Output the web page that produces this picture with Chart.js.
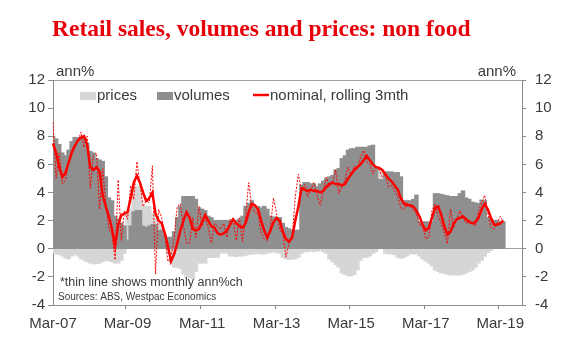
<!DOCTYPE html>
<html>
<head>
<meta charset="utf-8">
<script src="https://cdn.jsdelivr.net/npm/chart.js@4.4.0/dist/chart.umd.min.js"></script>
<style>
  html, body { margin: 0; padding: 0; background: #ffffff; }
  #wrap { width: 580px; height: 352px; position: relative; }
</style>
</head>
<body>
<div id="wrap"><canvas id="c" width="580" height="352"></canvas></div>
<script>
// ---- Data (monthly, Mar-07 onward) ----
const startYear = 2007, startMonth = 2, axisMonths = 152;
const monthNames = ['Jan','Feb','Mar','Apr','May','Jun','Jul','Aug','Sep','Oct','Nov','Dec'];
const categories = [];
for (let i = 0; i < axisMonths; i++) {
  const mi = (startMonth + i) % 12, yr = startYear + Math.floor((startMonth + i) / 12);
  categories.push(monthNames[mi] + '-' + String(yr % 100).padStart(2, '0'));
}
const tickLabels = ['Mar-07','Mar-09','Mar-11','Mar-13','Mar-15','Mar-17','Mar-19'];
const yTicks = [-4,-2,0,2,4,6,8,10,12];

const volumes = [
  8.0,7.8,7.4,6.8,6.6,7.0,7.6,7.9,7.9,7.9,7.9,7.5,
  6.9,6.8,6.4,6.3,6.2,5.1,3.6,3.4,2.3,2.1,1.8,1.6,
  0.6,1.6,2.6,2.7,2.7,1.6,1.5,1.6,1.7,1.7,1.3,1.3,
  0.9,0.8,0.8,1.2,2.2,3.0,3.7,3.7,3.7,3.7,3.5,2.9,
  2.8,2.7,2.3,2.2,2.0,2.0,2.0,2.0,2.0,2.0,2.0,2.0,
  2.1,2.3,3.0,3.2,3.4,3.0,3.0,2.9,3.0,2.8,2.3,2.25,
  2.2,2.2,1.8,1.5,1.4,1.3,1.3,1.3,4.5,4.7,4.7,4.6,
  4.6,4.4,4.6,4.8,5.0,5.1,5.2,5.6,5.7,6.4,6.6,7.0,
  7.1,7.1,7.2,7.2,7.2,7.2,7.3,7.35,5.8,4.9,4.9,5.45,
  5.45,5.45,5.4,5.4,5.1,3.4,3.4,3.4,3.5,3.8,1.9,1.9,
  1.9,1.9,1.9,3.9,3.9,3.85,3.8,3.75,3.7,3.7,3.7,3.9,
  4.1,3.6,3.5,3.3,3.25,3.2,3.45,3.4,2.2,2.1,2.0,2.0,
  1.9,1.9
];
const prices = [
  -0.3,-0.35,-0.4,-0.5,-0.65,-0.7,-0.5,-0.4,-0.5,-0.7,-0.8,-0.9,
  -1.0,-1.05,-1.05,-1.0,-0.9,-0.8,-0.85,-0.9,-1.0,-1.0,-0.8,-0.3,
  1.9,1.2,1.6,1.7,1.7,1.4,1.5,1.4,0.8,0.4,0.5,0.3,
  0.1,-0.3,-1.0,-1.3,-1.3,-1.4,-1.8,-2.0,-2.0,-2.1,-1.6,-1.0,
  -1.0,-1.0,-0.6,-0.6,-0.6,-0.6,-0.3,-0.25,-0.3,-0.5,-0.5,-0.55,
  -0.5,-0.5,-0.45,-0.4,-0.35,-0.35,-0.3,-0.35,-0.35,-0.3,-0.25,-0.2,
  -0.25,-0.3,-0.6,-0.7,-0.75,-0.7,-0.7,-0.6,-0.3,-0.2,-0.2,-0.15,
  -0.2,-0.15,-0.1,-0.2,-0.3,-0.7,-0.9,-1.1,-1.3,-1.7,-1.8,-1.9,
  -1.9,-1.8,-1.5,-0.8,-0.6,-0.6,-0.5,-0.3,-0.2,0.6,0.7,-0.3,
  -0.35,-0.35,-0.4,-0.6,-0.65,-0.6,-0.5,-0.35,-0.35,-0.35,-0.5,-0.7,
  -0.85,-1.0,-1.2,-1.5,-1.6,-1.7,-1.75,-1.8,-1.85,-1.85,-1.85,-1.85,
  -1.8,-1.7,-1.6,-1.5,-1.3,-1.0,-0.8,-0.5,-0.25,-0.1,0,0,
  0,0
];
const nominalRolling = [
  7.5,6.8,5.8,5.1,5.4,6.1,6.8,7.3,7.7,7.9,8.0,7.4,
  5.8,5.6,5.8,5.5,3.8,3.0,2.3,1.4,0.2,1.7,2.4,2.5,
  2.6,3.6,4.7,5.2,4.7,4.0,3.4,3.6,4.0,2.5,2.0,1.8,
  1.1,0.2,-0.9,-0.4,0.4,1.3,2.0,2.6,2.2,1.4,1.3,1.4,
  1.9,2.4,2.0,1.6,1.5,1.1,1.0,1.1,1.3,1.7,2.1,1.8,
  1.6,1.5,1.8,2.6,3.2,3.1,2.8,2.0,1.3,0.8,1.3,1.9,
  2.2,2.0,1.2,0.7,0.5,0.8,2.0,3.0,4.3,4.2,4.1,4.2,
  4.1,4.1,4.0,4.1,4.4,4.6,4.7,4.6,4.6,4.5,4.6,5.0,
  5.3,5.6,5.8,6.0,6.3,6.6,6.3,6.0,5.8,5.75,5.6,5.3,
  5.0,4.8,4.5,4.2,3.6,3.2,3.1,3.1,3.0,2.7,2.3,1.7,
  1.3,1.5,2.2,2.9,3.0,2.4,1.6,1.0,1.2,1.8,2.1,2.2,
  2.3,2.1,1.9,1.8,1.9,2.2,2.8,3.2,2.8,2.2,1.7,1.7,
  1.8,2.0
];
const nominalMonthly = [
  9.0,5.0,6.8,4.6,4.9,6.2,7.0,7.4,7.6,8.3,7.2,8.0,
  4.3,6.6,6.8,2.8,5.7,3.2,1.4,1.0,-0.8,4.9,0.6,2.7,
  2.1,4.5,3.5,6.2,4.6,3.0,3.4,3.3,5.9,-1.8,2.8,2.2,
  1.0,-0.9,-0.6,0.8,3.0,3.2,1.6,0.4,0.4,2.2,0.8,3.0,
  1.6,2.2,1.5,0.4,1.8,1.6,1.4,1.8,0.8,2.1,2.0,0.6,
  2.2,0.5,2.3,4.7,3.0,2.6,2.5,1.1,0.7,0.6,1.6,3.6,
  2.5,1.3,1.1,-0.6,0.4,0.8,3.7,5.3,4.1,4.6,3.7,4.2,
  4.7,3.8,3.1,4.1,5.1,4.4,4.7,5.6,3.9,4.4,4.9,5.8,
  5.2,5.9,5.7,6.5,7.0,6.2,6.0,5.3,5.9,5.6,5.1,5.3,
  4.4,4.5,4.1,3.7,2.9,2.8,3.3,3.0,2.7,2.5,1.7,1.6,
  0.7,0.8,2.7,3.2,2.3,1.8,1.1,0.35,2.8,1.5,2.1,2.7,
  2.2,1.8,2.0,1.9,1.6,2.7,3.3,3.8,2.5,1.5,1.4,1.8,
  2.3,1.9
];

// ---- Styles ----
const RED = '#ff0000';
const DARK = '#8f8f8f';
const LIGHT = '#d6d6d6';
const AXIS = '#8a8a8a';
const TEXT = '#3a3a3a';
const FONT = "'Liberation Sans', Arial, sans-serif";

const overlay = {
  id: 'overlay',
  afterDraw(chart) {
    const ctx = chart.ctx;
    ctx.save();
    // Title
    ctx.fillStyle = '#e8000b';
    ctx.font = "bold 23.5px 'Liberation Serif', 'Times New Roman', serif";
    ctx.textBaseline = 'alphabetic';
    ctx.textAlign = 'left';
    ctx.fillText('Retail sales, volumes and prices: non food', 52, 36);
    // Axis units
    ctx.fillStyle = TEXT;
    ctx.font = '15px ' + FONT;
    ctx.textBaseline = 'middle';
    ctx.textAlign = 'left';
    ctx.fillText('ann%', 56, 72);
    ctx.textAlign = 'right';
    ctx.fillText('ann%', 516, 72);
    // Legend
    const ly = 96;
    ctx.textAlign = 'left';
    ctx.fillStyle = LIGHT;
    ctx.fillRect(80, ly - 4, 16, 8);
    ctx.fillStyle = TEXT;
    ctx.fillText('prices', 97, ly);
    ctx.fillStyle = DARK;
    ctx.fillRect(157, ly - 4, 16, 8);
    ctx.fillStyle = TEXT;
    ctx.fillText('volumes', 174, ly);
    ctx.strokeStyle = RED;
    ctx.lineWidth = 2.5;
    ctx.beginPath();
    ctx.moveTo(253, ly - 1);
    ctx.lineTo(269, ly - 1);
    ctx.stroke();
    ctx.fillStyle = TEXT;
    ctx.fillText('nominal, rolling 3mth', 270, ly);
    // Notes
    ctx.font = '12.5px ' + FONT;
    ctx.fillText('*thin line shows monthly ann%ch', 60, 283);
    ctx.font = '10px ' + FONT;
    ctx.fillText('Sources: ABS, Westpac Economics', 58, 297);
    ctx.restore();
  }
};

const isLabelTick = (ctx) => {
  const t = ctx.tick;
  if (!t) return false;
  return tickLabels.indexOf(categories[t.value]) !== -1;
};

new Chart(document.getElementById('c'), {
  data: {
    labels: categories,
    datasets: [
      { type: 'line', label: 'nominal, rolling 3mth', data: nominalRolling, borderColor: RED,
        borderWidth: 2.5, pointRadius: 0, tension: 0, stack: 'l1', order: 0, yAxisID: 'y' },
      { type: 'line', label: 'monthly', data: nominalMonthly, borderColor: RED,
        borderWidth: 1, borderDash: [2, 1.5], pointRadius: 0, tension: 0, stack: 'l2', order: 1, yAxisID: 'y' },
      { type: 'bar', label: 'volumes', data: volumes, backgroundColor: DARK, borderWidth: 0, inflateAmount: 0.7,
        barPercentage: 1, categoryPercentage: 1, stack: 'bars', order: 2, yAxisID: 'y' },
      { type: 'bar', label: 'prices', data: prices, backgroundColor: LIGHT, borderWidth: 0, inflateAmount: 0.7,
        barPercentage: 1, categoryPercentage: 1, stack: 'bars', order: 3, yAxisID: 'y' }
    ]
  },
  options: {
    responsive: false,
    animation: false,
    events: [],
    layout: { padding: { top: 80, left: 0, right: 0, bottom: 0 } },
    plugins: { legend: { display: false }, tooltip: { enabled: false }, title: { display: false } },
    scales: {
      x: {
        type: 'category',
        offset: false,
        stacked: true,
        border: { display: true, color: AXIS, width: 1 },
        grid: { drawOnChartArea: false, drawTicks: true, tickLength: 4,
                tickColor: (ctx) => isLabelTick(ctx) ? AXIS : 'rgba(0,0,0,0)' },
        ticks: {
          autoSkip: false, maxRotation: 0, minRotation: 0, padding: 6,
          color: TEXT, font: { family: FONT, size: 15 },
          callback: function(v) { const l = categories[v]; return tickLabels.indexOf(l) !== -1 ? l : ''; }
        },
        afterFit(scale) { scale.height = 47; }
      },
      y: {
        position: 'left',
        stacked: true,
        min: -4, max: 12,
        border: { display: true, color: AXIS, width: 1 },
        grid: { drawOnChartArea: true, drawTicks: true, tickLength: 5, tickColor: AXIS,
                color: (ctx) => (ctx.tick && (ctx.tick.value === 0 || ctx.tick.value === 12)) ? '#a0a0a0' : 'rgba(0,0,0,0)' },
        afterBuildTicks(scale) { scale.ticks = yTicks.map(v => ({ value: v })); },
        ticks: { padding: 3, color: TEXT, font: { family: FONT, size: 15 } },
        afterFit(scale) { scale.width = 53; }
      },
      y2: {
        position: 'right',
        min: -4, max: 12,
        border: { display: true, color: AXIS, width: 1 },
        grid: { drawOnChartArea: false, drawTicks: true, tickLength: 4, tickColor: AXIS },
        afterBuildTicks(scale) { scale.ticks = yTicks.map(v => ({ value: v })); },
        ticks: { padding: 9, color: TEXT, font: { family: FONT, size: 15 } },
        afterFit(scale) { scale.width = 58; }
      }
    }
  },
  plugins: [overlay]
});
</script>
</body>
</html>
